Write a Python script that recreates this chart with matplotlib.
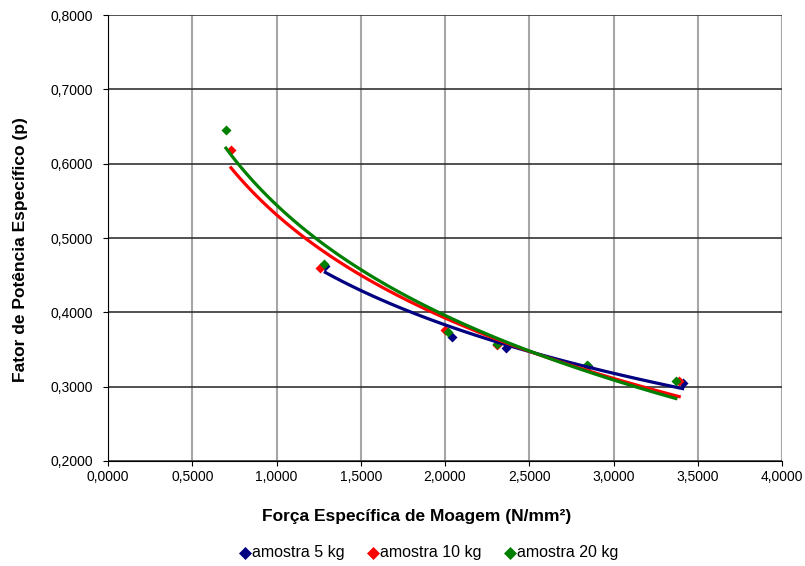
import numpy as np
import matplotlib.pyplot as plt
from matplotlib.ticker import FuncFormatter

plt.rcParams['font.family'] = ['Liberation Sans', 'DejaVu Sans']

# values
x_5kg = [1.29, 2.04, 2.36, 2.85, 3.41]
y_5kg = [0.462, 0.367, 0.352, 0.328, 0.305]
x_10kg = [0.73, 1.26, 2.00, 2.31, 2.84, 3.39]
y_10kg = [0.618, 0.459, 0.376, 0.356, 0.328, 0.307]
x_20kg = [0.70, 1.28, 2.02, 2.31, 2.84, 3.37]
y_20kg = [0.645, 0.465, 0.373, 0.357, 0.329, 0.307]

series = [
    ('amostra 5 kg', x_5kg, y_5kg, '#000080'),
    ('amostra 10 kg', x_10kg, y_10kg, '#FF0000'),
    ('amostra 20 kg', x_20kg, y_20kg, '#008000'),
]

fig = plt.figure(figsize=(8.05, 5.66), dpi=100)
ax = fig.add_axes([108 / 805, 1 - 461 / 566, (782 - 108) / 805, (461 - 15) / 566])

for label, xs, ys, col in series:
    ax.scatter(xs, ys, marker='D', s=26, color=col, label=label, zorder=3, linewidths=0)

# logarithmic trendlines (like Excel)
for label, xs, ys, col in series:
    a, b = np.polyfit(np.log(xs), ys, 1)
    xx = np.linspace(min(xs), max(xs), 100)
    ax.plot(xx, a * np.log(xx) + b, color=col, lw=2.3, zorder=4)

ax.set_xlim(0, 4)
ax.set_ylim(0.2, 0.8)
ax.set_xticks(np.arange(0, 4.01, 0.5))
ax.set_yticks(np.arange(0.2, 0.801, 0.1))
fmt = FuncFormatter(lambda v, p: f'{v:.4f}'.replace('.', ','))
ax.xaxis.set_major_formatter(fmt)
ax.yaxis.set_major_formatter(fmt)
ax.tick_params(labelsize=10, direction='out', length=3.6, color='black')
ax.tick_params(axis='y', pad=7)
ax.tick_params(axis='x', pad=3)

ax.grid(axis='x', color='#a6a6a6', lw=1.5)
ax.grid(axis='y', color='#333333', lw=1.2)
ax.set_axisbelow(True)
for s in ['top', 'right']:
    ax.spines[s].set_visible(False)
ax.spines['left'].set_color('black')
ax.spines['bottom'].set_color('black')

ax.set_xlabel('Força Específica de Moagem (N/mm²)', fontsize=12.5, fontweight='bold')
ax.set_ylabel('Fator de Potência Específico (p)', fontsize=12.5, fontweight='bold')
ax.xaxis.set_label_coords((417 - 108) / 674, -(509 - 461) / 446)
ax.yaxis.set_label_coords(-(108 - 28) / 674, (461 - 250) / 446)

fig.legend(loc='center', bbox_to_anchor=(428 / 805, 1 - 553 / 566), ncol=3, frameon=False,
           fontsize=11.5, handletextpad=0.0, handlelength=0.9, columnspacing=1.3,
           markerscale=1.3)

fig.savefig('out.png', dpi=100)
